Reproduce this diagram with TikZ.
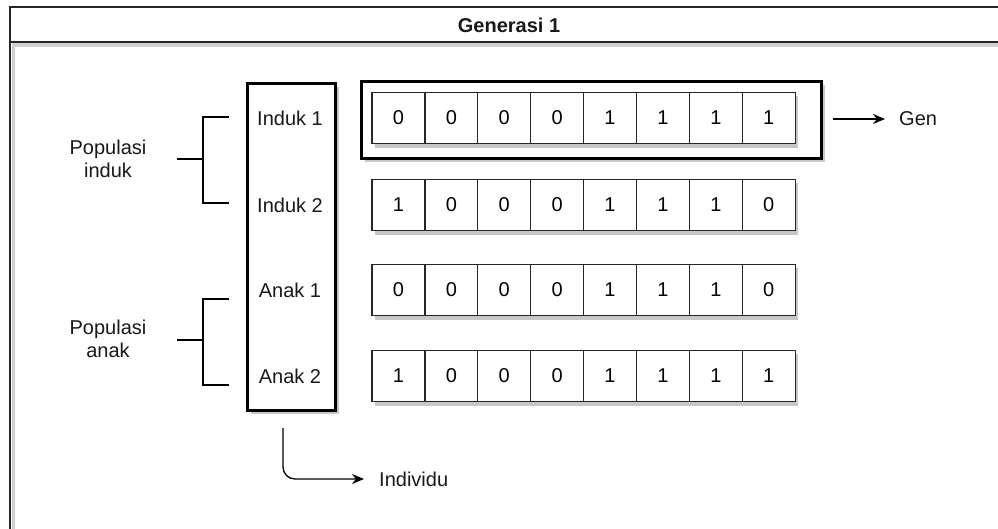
\documentclass[tikz,border=0pt]{standalone}
\usepackage{fontspec}
\setmainfont{Liberation Sans}
\usetikzlibrary{arrows.meta}
\begin{document}
\begin{tikzpicture}[x=1pt,y=-1pt,
  lbl/.style={font=\fontsize{20}{23}\selectfont, inner sep=0pt, text=black!90},
  cell/.style={draw=black!85, line width=1.2pt, fill=white, minimum width=52.9pt, minimum height=51pt, inner sep=0pt, font=\fontsize{20}{23}\selectfont},
  thickbox/.style={draw=black, line width=3pt, fill=white},
  shadowbox/.style={fill=black!22, draw=none},
  bracket/.style={draw=black, line width=2.6pt},
  arr/.style={draw=black, line width=1.3pt, -{Stealth[length=12pt,width=10pt]}},
]
\useasboundingbox (0,0) rectangle (998,528);
\clip (0,0) rectangle (998,528);
\fill[white] (0,0) rectangle (998,528);
% outer frame
\fill[black!18] (12,42) rectangle (1010,47);
\fill[black!18] (12,42) rectangle (15,540);
\draw[draw=black!85, line width=1.5pt] (10,7) rectangle (1010,540);
\draw[draw=black!85, line width=1.5pt] (10,42) -- (1010,42);
\node[lbl, font=\fontsize{20}{23}\selectfont\bfseries] (title) at (509,25) {Generasi 1};

% individual column box
\fill[shadowbox] (251,87) rectangle (339,414);
\node[thickbox, minimum width=88pt, minimum height=327pt, inner sep=0pt] (indiv) at (291,246.5) {};
\node[lbl] (i1) at (290,118) {Induk 1};
\node[lbl] (i2) at (290,205) {Induk 2};
\node[lbl] (a1) at (290,290) {Anak 1};
\node[lbl] (a2) at (290,376) {Anak 2};

% highlight box around first chromosome
\fill[shadowbox] (365,85) rectangle (825,162);
\node[thickbox, minimum width=460pt, minimum height=77pt, inner sep=0pt] (genbox) at (591,119.5) {};

% chromosome rows
\foreach \r/\yy/\bits in {1/118/{0,0,0,0,1,1,1,1}, 2/205/{1,0,0,0,1,1,1,0}, 3/290/{0,0,0,0,1,1,1,0}, 4/376/{1,0,0,0,1,1,1,1}}{
  \fill[shadowbox] (375,\yy-25.5+3) rectangle (798,\yy+25.5+4);
  \foreach \b [count=\i] in \bits {
    \node[cell] (c\r-\i) at ({372+52.9*(\i-0.5)},\yy) {\b};
  }
}

% brackets
\draw[bracket] (229,117) -- (203,117) -- (203,203) -- (229,203);
\draw[bracket] (177,159) -- (203,159);
\node[lbl, align=center] (popinduk) at (108,159) {Populasi\\induk};
\draw[bracket] (229,299) -- (203,299) -- (203,385) -- (229,385);
\draw[bracket] (177,340) -- (203,340);
\node[lbl, align=center] (popanak) at (108,339) {Populasi\\anak};

% Gen arrow
\node[lbl, anchor=west] (gen) at (899,119) {Gen};
\coordinate (genstart) at (833,119);
\draw[arr] (genstart) -- ([xshift=-14pt]gen.west);

% Individu arrow
\node[lbl, anchor=west] (individu) at (379,479) {Individu};
\coordinate (indstart) at (283,428);
\draw[arr, rounded corners=12pt] (indstart) |- ([xshift=-15pt]individu.west);
\end{tikzpicture}
\end{document}
